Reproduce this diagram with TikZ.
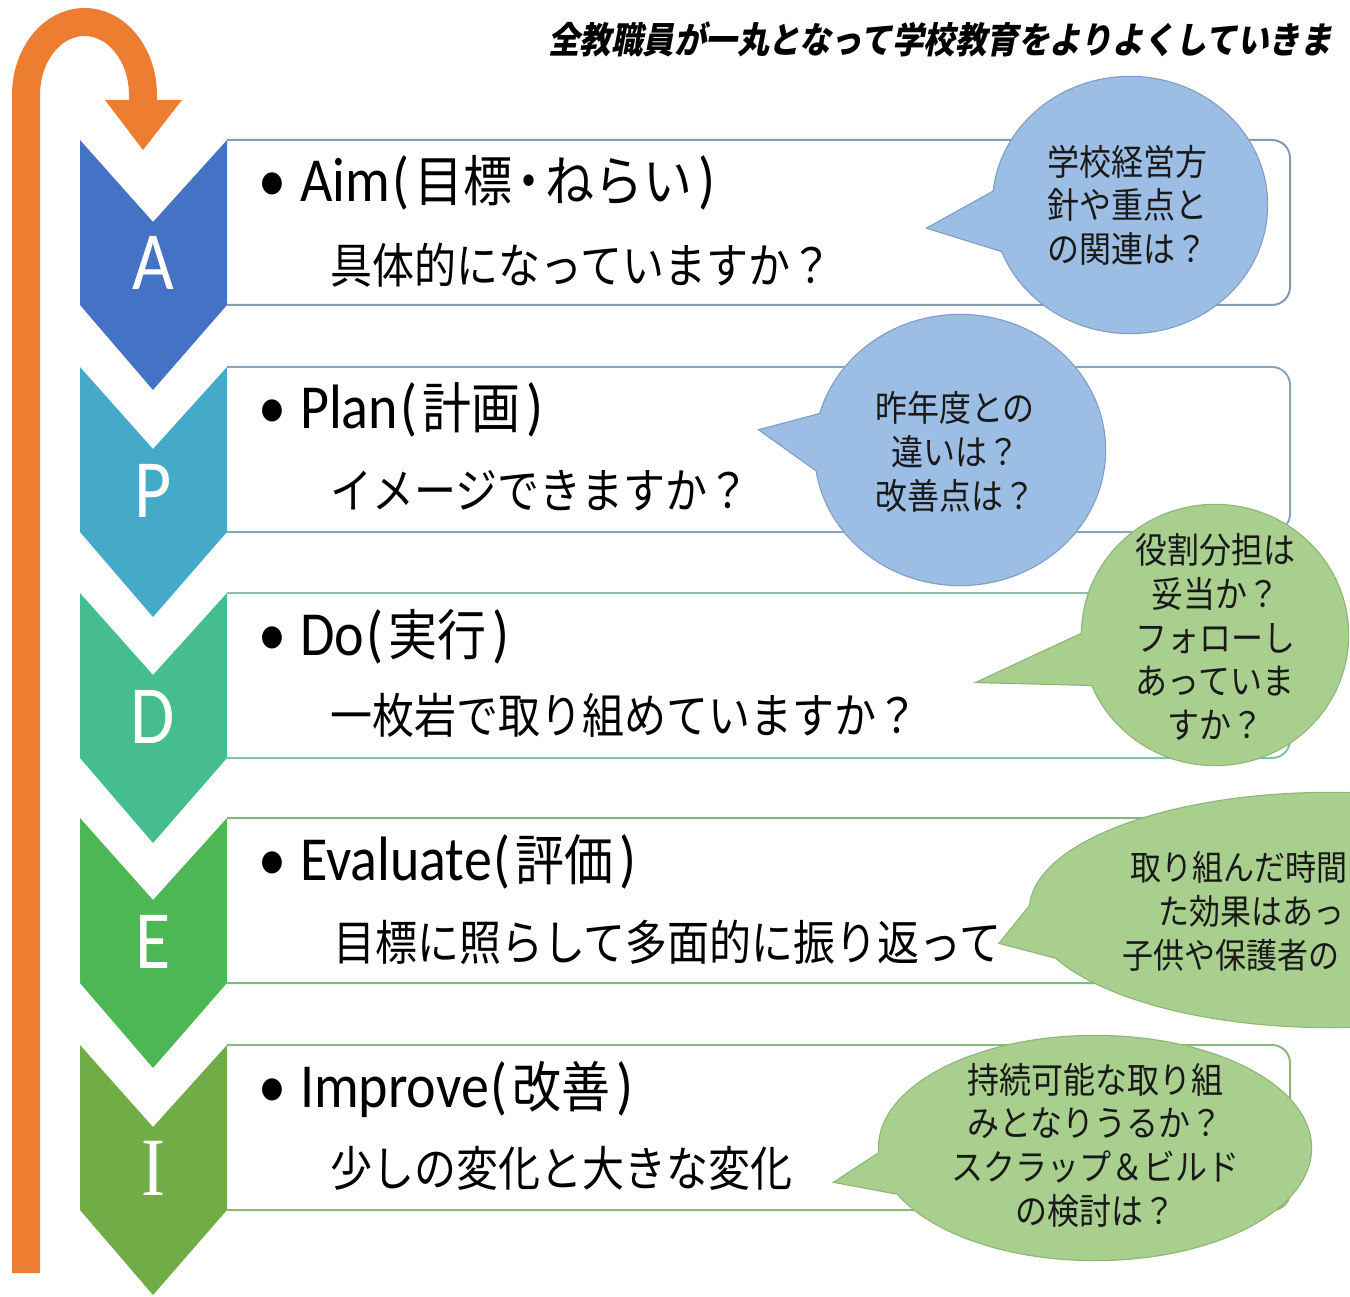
\documentclass[tikz,border=0pt]{standalone}
\usepackage{fontspec}
\setmainfont{Carlito}
\newfontfamily\jp{Noto Sans CJK JP}
\newfontfamily\jpsl[FakeSlant=0.22]{Noto Sans CJK JP}
\newfontfamily\serifI{Liberation Serif}
\definecolor{cA}{HTML}{4472C4}
\definecolor{cP}{HTML}{45AAC8}
\definecolor{cD}{HTML}{46BD8E}
\definecolor{cE}{HTML}{4DB755}
\definecolor{cI}{HTML}{70AD47}
\definecolor{bA}{HTML}{8499B3}
\definecolor{bP}{HTML}{8CA5BC}
\definecolor{bD}{HTML}{86C2A6}
\definecolor{bE}{HTML}{80B980}
\definecolor{bI}{HTML}{8AB97A}
\definecolor{orng}{HTML}{ED7D31}
\definecolor{bubBfill}{HTML}{9DBEE4}
\definecolor{bubBline}{HTML}{7E9CC6}
\definecolor{bubGfill}{HTML}{A9CF8E}
\definecolor{bubGline}{HTML}{8DB573}
\newcommand\jpb[1]{{\jp\fontsize{49}{50}\selectfont #1}}
\begin{document}
\begin{tikzpicture}[x=1pt,y=-1pt,
  head/.style={anchor=base west,inner sep=0pt,yscale=1.12,font=\fontsize{56}{60}\selectfont},
  sub/.style={anchor=base west,inner sep=0pt,yscale=1.14,font=\jp\fontsize{42}{50}\selectfont},
  letter/.style={anchor=base,inner sep=0pt,text=white,yscale=1.15,font=\fontsize{72}{76}\selectfont},
  bubtext/.style={inner sep=0pt,align=center,yscale=1.12,text=black!90,font=\jp\fontsize{32}{39}\selectfont},
  bubline/.style={anchor=base west,inner sep=0pt,yscale=1.12,text=black!90,font=\jp\fontsize{31}{36}\selectfont},
  boxline/.style={line width=2pt,rounded corners=18pt},
]
\useasboundingbox (0,0) rectangle (1350,1297);
\clip (0,0) rectangle (1350,1297);

% title
\node[anchor=base west,inner sep=0pt,yscale=1.15,font=\jpsl\bfseries\fontsize{31.5}{36}\selectfont] (title) at (548,54) {全教職員が一丸となって学校教育をよりよくしていきま};

% orange loop arrow
\draw[orng,line width=28pt] (26,1273) -- (26,95) arc[start angle=180,end angle=360,x radius=58.5,y radius=73] -- (143,102);
\fill[orng] (105,100) -- (182,100) -- (143,150) -- cycle;

% chevrons and boxes
\foreach \yy/\cc/\bb/\ll/\nm in {140/cA/bA/A/a,367/cP/bP/P/p,593/cD/bD/D/d,818/cE/bE/E/e,1045/cI/bI/{\serifI I}/i}{
  \fill[\cc] (80,\yy) -- (153,\yy+82) -- (227,\yy) -- (227,\yy+165) -- (153,\yy+250) -- (80,\yy+165) -- cycle;
  \draw[\bb,boxline] (227,\yy) -- (1290,\yy) -- (1290,\yy+165) -- (227,\yy+165);
  \node[letter] (L-\nm) at (153,\yy+150) {\ll};
}

% row texts
\node[head] (hA) at (258,202) {•\hspace{14pt}Aim\hspace{2pt}(\hspace{5pt}\jpb{目標\hspace{-8pt}・\hspace{-8pt}ねらい}\hspace{6pt})};
\node[sub] (sA) at (330,284) {具体的になっていますか？};
\node[head] (hP) at (258,428) {•\hspace{14pt}Plan\hspace{2pt}(\hspace{5pt}\jpb{計画}\hspace{6pt})};
\node[sub] (sP) at (330,508) {イメージできますか？};
\node[head] (hD) at (258,655) {•\hspace{14pt}Do\hspace{2pt}(\hspace{5pt}\jpb{実行}\hspace{6pt})};
\node[sub] (sD) at (330,733) {一枚岩で取り組めていますか？};
\node[head] (hE) at (258,880) {•\hspace{14pt}Evaluate\hspace{2pt}(\hspace{5pt}\jpb{評価}\hspace{6pt})};
\node[sub] (sE) at (333,960) {目標に照らして多面的に振り返って};
\node[head] (hI) at (258,1107) {•\hspace{14pt}Improve\hspace{2pt}(\hspace{5pt}\jpb{改善}\hspace{6pt})};
\node[sub] (sI) at (330,1186) {少しの変化と大きな変化};

% callout A
\path[draw=bubBline,line width=2.4pt] (1130,205) ellipse[x radius=137,y radius=128] (1000,188) -- (928,228) -- (1005,252) -- cycle;
\fill[bubBfill] (1130,205) ellipse[x radius=137,y radius=128];
\fill[bubBfill] (1000,188) -- (928,228) -- (1005,252) -- cycle;
\node[bubtext] (tA) at (1127,205) {学校経営方\\針や重点と\\の関連は？};

% callout P
\path[draw=bubBline,line width=2.4pt] (960,450) ellipse[x radius=145,y radius=135] (824,413) -- (760,430) -- (830,480) -- cycle;
\fill[bubBfill] (960,450) ellipse[x radius=145,y radius=135];
\fill[bubBfill] (824,413) -- (760,430) -- (830,480) -- cycle;
\node[bubtext] (tP) at (955,452) {昨年度との\\違いは？\\改善点は？};

% callout D
\path[draw=bubGline,line width=2.4pt] (1215,635) ellipse[x radius=133,y radius=130] (1090,630) -- (978,682) -- (1098,685) -- cycle;
\fill[bubGfill] (1215,635) ellipse[x radius=133,y radius=130];
\fill[bubGfill] (1090,630) -- (978,682) -- (1098,685) -- cycle;
\node[bubtext] (tD) at (1215,637) {役割分担は\\妥当か？\\フォローし\\あっていま\\すか？};

% callout E
\path[draw=bubGline,line width=2.4pt] (1330,910) ellipse[x radius=300,y radius=117] (1043,890) -- (1000,943) -- (1065,960) -- cycle;
\fill[bubGfill] (1330,910) ellipse[x radius=300,y radius=117];
\fill[bubGfill] (1043,890) -- (1000,943) -- (1065,960) -- cycle;
\node[bubline] (tE1) at (1130,880) {取り組んだ時間};
\node[bubline] (tE2) at (1158,924) {た効果はあっ};
\node[bubline] (tE3) at (1122,968) {子供や保護者の};

% callout I
\path[draw=bubGline,line width=2.4pt] (1095,1148) ellipse[x radius=216,y radius=112] (884,1150) -- (835,1182) -- (905,1195) -- cycle;
\fill[bubGfill] (1095,1148) ellipse[x radius=216,y radius=112];
\fill[bubGfill] (884,1150) -- (835,1182) -- (905,1195) -- cycle;
\node[bubtext] (tI) at (1095,1145) {持続可能な取り組\\みとなりうるか？\\スクラップ＆ビルド\\の検討は？};
\end{tikzpicture}
\end{document}
